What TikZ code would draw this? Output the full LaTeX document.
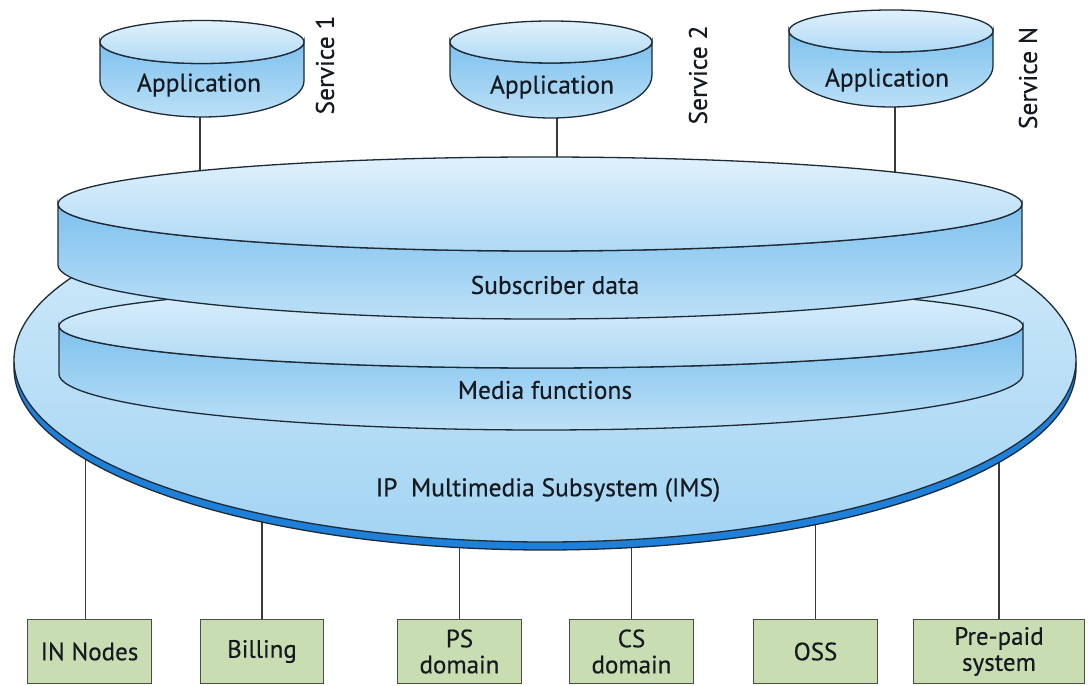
\documentclass[tikz,border=0pt]{standalone}
\usepackage{fontspec}
\setmainfont{PT Sans}
\newfontfamily\labelfont[FakeBold=0.4]{PT Sans}
\definecolor{lineclr}{HTML}{1E2A36}
\definecolor{connclr}{HTML}{3A3A3A}
\definecolor{textclr}{HTML}{151A20}
\definecolor{boxfill}{HTML}{C9DDB2}
\definecolor{boxline}{HTML}{4A4F44}
\definecolor{topA}{HTML}{E0F1FC}
\definecolor{topB}{HTML}{AFD9F5}
\definecolor{sideA}{HTML}{7EC1EE}
\definecolor{sideB}{HTML}{BCE0F7}
\definecolor{imsA}{HTML}{D6EDFB}
\definecolor{imsB}{HTML}{A3D4F3}
\definecolor{rimclr}{HTML}{1F80D9}
\newcommand{\mydisc}[6]{%
  \path[shade, top color=sideA, bottom color=sideB, draw=lineclr, line width=1.3pt]
    ({#1-#3},{#2}) -- ({#1-#3},{#2-#5})
    arc[start angle=180, end angle=360, x radius=#3, y radius=#6]
    -- ({#1+#3},{#2})
    arc[start angle=0, end angle=-180, x radius=#3, y radius=#4] -- cycle;
  \path[shade, top color=topA, bottom color=topB, draw=lineclr, line width=1.3pt]
    (#1,#2) ellipse[x radius=#3, y radius=#4];
}
\begin{document}
\begin{tikzpicture}[x=1pt,y=1pt,
  conn/.style={draw=connclr, line width=1.3pt},
  lbl/.style={font=\labelfont\fontsize{25.5}{29}\selectfont, text=textclr, inner sep=0pt},
  boxnode/.style={draw=boxline, line width=1pt, fill=boxfill, minimum height=64pt,
    inner sep=0pt, align=center, font=\labelfont\fontsize{25}{26}\selectfont, text=textclr, anchor=south west}]
\useasboundingbox (0,0) rectangle (1088,686);
\fill[white] (0,0) rectangle (1088,686);
% bottom boxes
\node[boxnode, minimum width=124pt] (in) at (27,2) {IN Nodes};
\node[boxnode, minimum width=123pt] (bill) at (200,2) {Billing};
\node[boxnode, minimum width=124pt] (ps) at (397,2) {PS\\domain};
\node[boxnode, minimum width=124pt] (cs) at (569,2) {CS\\domain};
\node[boxnode, minimum width=124pt] (oss) at (753,2) {OSS};
\node[boxnode, minimum width=171pt] (pre) at (913,2) {Pre-paid\\system};
% anchor coordinates
\coordinate (app1b) at (200,569);
\coordinate (app2b) at (557,568);
\coordinate (appNb) at (895,579);
\coordinate (subtop) at (540,482);
\coordinate (imsc) at (545,326);
% connectors (ends hidden under the discs)
\draw[conn] (app1b) -- (app1b |- subtop);
\draw[conn] (app2b) -- (app2b |- subtop);
\draw[conn] (appNb) -- (appNb |- subtop);
\draw[conn] (in.north) ++(-4,0) -- ++(0,260);
\draw[conn] (bill.north) -- (bill.north |- imsc);
\draw[conn] (ps.north) -- (ps.north |- imsc);
\draw[conn] (cs.north) -- (cs.north |- imsc);
\draw[conn] (oss.north) -- (oss.north |- imsc);
\draw[conn] (pre.north) -- (pre.north |- imsc);
% IMS platform
\path[fill=rimclr, draw=lineclr, line width=1.3pt] (545,318) ellipse[x radius=531, y radius=182];
\path[shade, top color=imsA, bottom color=imsB, draw=lineclr, line width=1.3pt] (imsc) ellipse[x radius=531, y radius=182];
% media functions and subscriber data discs
\mydisc{541}{360}{482}{42}{48}{56}
\mydisc{540}{482}{482}{47}{61}{54}
% applications
\mydisc{202}{644}{102}{21.5}{39}{36}
\mydisc{551}{644}{101}{21}{33}{43}
\mydisc{891}{655}{102}{21}{35}{41}
% labels
\node[lbl] (app1) at (199,601) {Application};
\node[lbl] (app2) at (552,599) {Application};
\node[lbl] (appN) at (887,606) {Application};
\node[lbl, rotate=90] (s1) at (325,621) {Service 1};
\node[lbl, rotate=90] (s2) at (698,611) {Service 2};
\node[lbl, rotate=90] (sN) at (1028,608) {Service N};
\node[lbl] (subd) at (555,401) {Subscriber data};
\node[lbl] (media) at (545,296) {Media functions};
\node[lbl] (ims) at (548,196) {IP\ \ Multimedia Subsystem (IMS)};
\end{tikzpicture}
\end{document}
